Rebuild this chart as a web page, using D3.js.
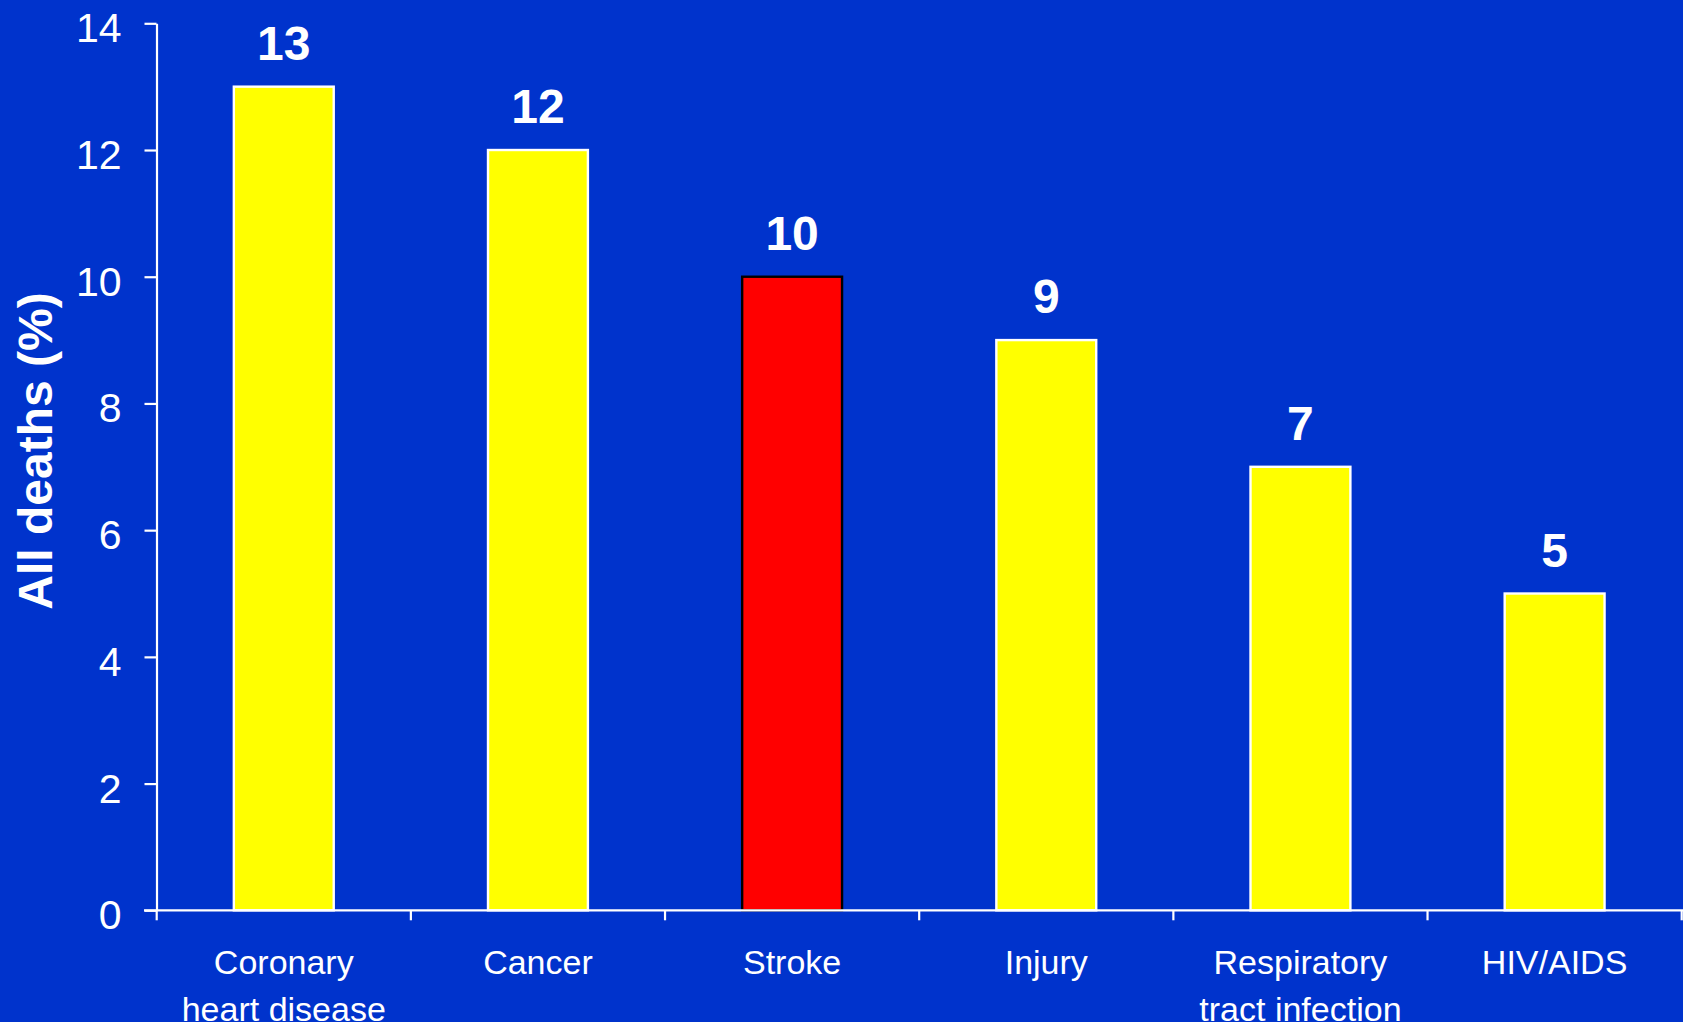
<!DOCTYPE html>
<html><head><meta charset="utf-8">
<script src="https://cdn.jsdelivr.net/npm/d3@7"></script>
<style>html,body{margin:0;padding:0;background:#0033cc;overflow:hidden}svg{display:block}</style>
</head><body><svg id="c" width="1683" height="1022"></svg>
<script>
const categories = [["Coronary","heart disease"],["Cancer"],["Stroke"],["Injury"],["Respiratory","tract infection"],["HIV/AIDS"]];
const values = [13, 12, 10, 9, 7, 5];
const highlight = [false, false, true, false, false, false];
const yTicks = [0, 2, 4, 6, 8, 10, 12, 14];
const yTitle = "All deaths (%)";

const W = 1683, H = 1022;
const svg = d3.select("#c");
svg.append("rect").attr("width", W).attr("height", H).attr("fill", "#0033cc");
const font = "Arial, 'Liberation Sans', Helvetica, sans-serif";
const keys = categories.map((c, i) => i);
const x = d3.scaleBand().domain(keys).range([156.7, 1681.7]).paddingInner(0).paddingOuter(0);
const y = d3.scaleLinear().domain([0, 14]).range([910.3, 23.3]);
const barW = x.bandwidth() * 0.393;

// bars
svg.selectAll("rect.bar").data(values).enter().append("rect")
  .attr("class", "bar")
  .attr("x", (d, i) => x(i) + (x.bandwidth() - barW) / 2)
  .attr("y", d => y(d))
  .attr("width", barW)
  .attr("height", d => y(0) - y(d))
  .attr("fill", (d, i) => highlight[i] ? "#ff0000" : "#ffff00")
  .attr("stroke", (d, i) => highlight[i] ? "#000000" : "#ffffff")
  .attr("stroke-width", 2.4);

// value labels
svg.selectAll("text.val").data(values).enter().append("text")
  .attr("class", "val")
  .attr("x", (d, i) => x(i) + x.bandwidth() / 2)
  .attr("y", d => y(d) - 27)
  .attr("text-anchor", "middle")
  .attr("font-family", font).attr("font-weight", "bold").attr("font-size", 48)
  .attr("fill", "#ffffff")
  .text(d => d);

// y axis
const yAxis = d3.axisLeft(y).tickValues(yTicks).tickSize(12).tickPadding(23).tickSizeOuter(0);
const gy = svg.append("g").attr("transform", "translate(156.5,0)").call(yAxis);
gy.select(".domain").attr("stroke", "#fff").attr("stroke-width", 2.2);
gy.selectAll(".tick line").attr("stroke", "#fff").attr("stroke-width", 2.2);
gy.selectAll(".tick text").attr("fill", "#fff").attr("font-family", font).attr("font-size", 41)
  .attr("dy", "0.45em");

// x axis
const xAxis = d3.axisBottom(x).tickSize(0).tickFormat(() => "");
const gx = svg.append("g").attr("transform", `translate(0,${y(0)})`).call(xAxis);
gx.select(".domain").remove();
gx.append("line").attr("x1", 144).attr("x2", W).attr("y1", 0).attr("y2", 0)
  .attr("stroke", "#fff").attr("stroke-width", 2.2);
const bounds = keys.map(k => x(k)).concat([x(keys[keys.length - 1]) + x.step()]);
gx.selectAll("line.xt").data(bounds).enter().append("line").attr("class", "xt")
  .attr("x1", d => d).attr("x2", d => d).attr("y1", 0).attr("y2", 10)
  .attr("stroke", "#fff").attr("stroke-width", 2.2);

// category labels
const lab = svg.selectAll("text.cat").data(categories).enter().append("text")
  .attr("class", "cat")
  .attr("text-anchor", "middle")
  .attr("font-family", font).attr("font-size", 34).attr("fill", "#fff");
lab.each(function(lines, i) {
  const t = d3.select(this);
  lines.forEach((ln, j) => {
    t.append("tspan").attr("x", x(i) + x.bandwidth() / 2).attr("y", 974 + j * 47).text(ln);
  });
});

// y title
svg.append("text")
  .attr("transform", "translate(51.5,451) rotate(-90)")
  .attr("text-anchor", "middle")
  .attr("font-family", font).attr("font-weight", "bold").attr("font-size", 48)
  .attr("fill", "#fff")
  .text(yTitle);
</script></body></html>
